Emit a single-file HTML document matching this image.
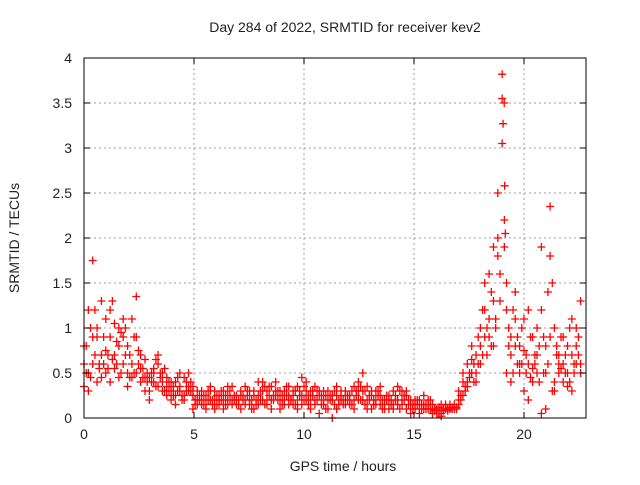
<!DOCTYPE html>
<html><head><meta charset="utf-8"><style>
body{margin:0;background:#fff}
svg text{font-family:"Liberation Sans",sans-serif;font-size:14px;fill:#222}
</style></head><body>
<svg id="chart" width="640" height="480" xmlns="http://www.w3.org/2000/svg">
<text x="345" y="32" text-anchor="middle">Day 284 of 2022, SRMTID for receiver kev2</text>
<text x="343" y="471" text-anchor="middle">GPS time / hours</text>
<text transform="translate(19,238) rotate(-90)" text-anchor="middle">SRMTID / TECUs</text>
<g id="grid"></g><g id="marks"></g><g id="axes"></g>
</svg>
<script>
const xTicks=[0,5,10,15,20];
const yTicks=[0,0.5,1,1.5,2,2.5,3,3.5,4];
const yTickLabels=["0","0.5","1","1.5","2","2.5","3","3.5","4"];
const hours=[];for(let i=0;i<115;i++)hours.push(+(i*0.198).toFixed(3));
const halfHours=[];for(let i=0;i<114;i++)halfHours.push(+(0.1+i*0.198).toFixed(3));
const seriesA=[0.6,1.2,0.9,1.0,0.7, 1.1,0.9,0.7,1.0,0.6, 0.5,0.6,1.35,0.7,0.45, 0.45,0.5,0.7,0.4,0.35, 0.3,0.4,0.35,0.45,0.3,
0.25,0.2,0.3,0.15,0.2, 0.2,0.15,0.3,0.25,0.35, 0.25,0.3,0.2,0.15,0.25, 0.4,0.3,0.2,0.35,0.25, 0.3,0.2,0.25,0.15,0.35,
0.45,0.3,0.2,0.35,0.25, 0.2,0.3,0.0,0.25,0.3, 0.3,0.25,0.35,0.2,0.5, 0.35,0.3,0.2,0.25,0.15, 0.2,0.3,0.35,0.15,0.25,
0.15,0.2,0.1,0.25,0.2, 0.1,0.05,0.15,0.1,0.15, 0.15,0.2,0.4,0.6,0.5, 0.7,1.0,1.5,0.9,1.9, 2.5,3.05,1.5,0.9,1.1,
0.8,1.1,0.6,0.9,0.5, 1.9,0.1,2.35,1.0,0.6, 0.9,0.5,1.1,0.6,1.3];
const seriesB=[0.35,0.5,1.75,0.4,1.3, 0.5,0.4,1.05,0.8,1.1, 0.35,1.1,0.5,0.4,0.3, 0.3,0.55,0.35,0.5,0.25, 0.2,0.25,0.5,0.2,0.35,
0.1,0.3,0.15,0.25,0.35, 0.1,0.25,0.2,0.15,0.2, 0.15,0.1,0.35,0.2,0.3, 0.15,0.2,0.3,0.1,0.4, 0.1,0.3,0.15,0.25,0.2,
0.15,0.4,0.1,0.2,0.3, 0.15,0.1,0.2,0.35,0.2, 0.15,0.2,0.1,0.4,0.3, 0.2,0.1,0.3,0.15,0.2, 0.1,0.15,0.2,0.3,0.1,
0.05,0.15,0.2,0.1,0.15, 0.05,0.1,0.02,0.15,0.1, 0.1,0.3,0.25,0.35,0.65, 0.5,0.8,1.2,1.6,1.3, 1.8,3.55,1.2,0.7,1.4,
0.5,0.3,1.2,0.4,0.7, 0.05,0.8,1.8,0.3,0.5, 0.4,0.8,0.3,1.0,0.6];
const seriesC=[0.8,0.3,0.6,0.9,0.45, 0.75,1.2,0.55,0.45,0.9, 0.8,0.45,0.9,0.55,0.65, 0.2,0.4,0.6,0.3,0.45, 0.4,0.15,0.3,0.25,0.5,
0.35,0.15,0.2,0.1,0.3, 0.3,0.2,0.1,0.35,0.15, 0.2,0.25,0.15,0.3,0.1, 0.25,0.4,0.15,0.2,0.3, 0.2,0.15,0.35,0.3,0.1,
0.25,0.2,0.3,0.15,0.05, 0.3,0.2,0.25,0.1,0.25, 0.25,0.15,0.2,0.3,0.2, 0.1,0.25,0.15,0.35,0.1, 0.25,0.1,0.15,0.2,0.3,
0.2,0.1,0.05,0.15,0.1, 0.15,0.08,0.05,0.1,0.12, 0.12,0.15,0.5,0.4,0.8, 0.4,0.6,0.9,1.1,0.8, 2.0,3.82,0.5,0.4,0.8,
0.6,0.75,0.2,0.55,1.0, 1.2,0.5,0.9,0.4,0.7, 0.6,0.35,0.7,0.8,0.5];
const seriesD=[0.5,1.0,1.2,0.6,0.9, 0.7,1.3,0.6,0.95,1.0, 0.45,0.9,0.6,0.55,0.4, 0.5,0.65,0.45,0.3,0.4, 0.35,0.3,0.25,0.4,0.3,
0.2,0.25,0.15,0.3,0.2, 0.25,0.2,0.15,0.3,0.2, 0.2,0.25,0.3,0.2,0.15, 0.3,0.35,0.25,0.2,0.3, 0.25,0.35,0.2,0.3,0.25,
0.35,0.25,0.3,0.2,0.25, 0.25,0.2,0.3,0.15,0.2, 0.2,0.3,0.25,0.35,0.3, 0.25,0.2,0.3,0.2,0.25, 0.2,0.25,0.3,0.2,0.15,
0.15,0.2,0.15,0.1,0.2, 0.1,0.12,0.08,0.1,0.12, 0.12,0.25,0.35,0.5,0.6, 0.9,1.2,0.7,1.4,1.1, 1.6,2.2,1.0,1.2,0.6,
1.0,0.7,0.9,0.6,0.8, 0.9,1.4,1.5,0.7,0.9, 0.7,1.0,0.5,0.9];
const seriesE=[0.8,0.45,0.7,0.55,0.6, 0.55,0.65,0.85,0.5,0.7, 0.7,0.5,0.75,0.45,0.5, 0.4,0.35,0.5,0.55,0.3, 0.25,0.45,0.2,0.3,0.4,
0.15,0.2,0.25,0.2,0.15, 0.15,0.3,0.25,0.2,0.25, 0.15,0.2,0.25,0.1,0.2, 0.2,0.15,0.35,0.25,0.2, 0.15,0.25,0.2,0.15,0.3,
0.2,0.15,0.25,0.3,0.15, 0.1,0.25,0.15,0.2,0.15, 0.25,0.15,0.3,0.2,0.15, 0.2,0.15,0.25,0.1,0.2, 0.15,0.2,0.1,0.25,0.2,
0.1,0.15,0.1,0.15,0.1, 0.08,0.05,0.1,0.08,0.1, 0.1,0.2,0.3,0.45,0.4, 0.6,0.7,1.0,0.8,1.0, 1.3,1.9,0.8,0.5,0.9,
0.6,0.5,0.45,0.7,0.4, 0.5,0.6,0.3,0.8,0.55, 0.5,0.4,0.6,0.7];
const spikeHours=[19.05,19.1,19.12,19.15];
const spikeValues=[3.27,3.5,2.58,2.05];

const L=84,R=586,T=58,B=418,XMAX=(R-L)/22;
const xs=v=>L+(v/XMAX)*(R-L);
const ys=v=>B-(v/4)*(B-T);
const NS="http://www.w3.org/2000/svg";
function mk(tag,attrs,parent){const e=document.createElementNS(NS,tag);for(const k in attrs)e.setAttribute(k,attrs[k]);parent.appendChild(e);return e;}
const grid=document.getElementById('grid'),axes=document.getElementById('axes'),marks=document.getElementById('marks');
xTicks.forEach(t=>{
  const x=xs(t);
  if(t>0){const g=mk('line',{x1:x,x2:x,y1:T,y2:B,stroke:'#a0a0a0','stroke-dasharray':'2,3'},grid);
  
  }
  mk('line',{x1:x,x2:x,y1:B,y2:B-6,stroke:'#000'},axes);
  mk('line',{x1:x,x2:x,y1:T,y2:T+6,stroke:'#000'},axes);
  const tx=mk('text',{x:x,y:B+21,'text-anchor':'middle'},axes);tx.textContent=t;
  
  
});
yTicks.forEach((t,i)=>{
  const y=ys(t);
  if(t>0&&t<4){const g=mk('line',{x1:L,x2:R,y1:y,y2:y,stroke:'#a0a0a0','stroke-dasharray':'2,3'},grid);
  
  }
  mk('line',{x1:L,x2:L+6,y1:y,y2:y,stroke:'#000'},axes);
  mk('line',{x1:R,x2:R-6,y1:y,y2:y,stroke:'#000'},axes);
  const tx=mk('text',{x:72,y:y+5,'text-anchor':'end'},axes);tx.textContent=yTickLabels[i];
  
  
});
const frame=mk('rect',{x:L,y:T,width:R-L,height:B-T,fill:'none',stroke:'#000'},axes);


function cross(h,v){
  const x=xs(h),y=ys(v);
  const p=mk('path',{d:`M${x-4},${y}H${x+4}M${x},${y-4}V${y+4}`,stroke:'#ff0000','stroke-width':1.3},marks);
  
  
}
[seriesA,seriesB,seriesC].forEach(s=>s.forEach((v,i)=>cross(hours[i],v)));
[seriesD,seriesE].forEach(s=>s.forEach((v,i)=>cross(halfHours[i],v)));
spikeValues.forEach((v,i)=>cross(spikeHours[i],v));
</script>
</body></html>
